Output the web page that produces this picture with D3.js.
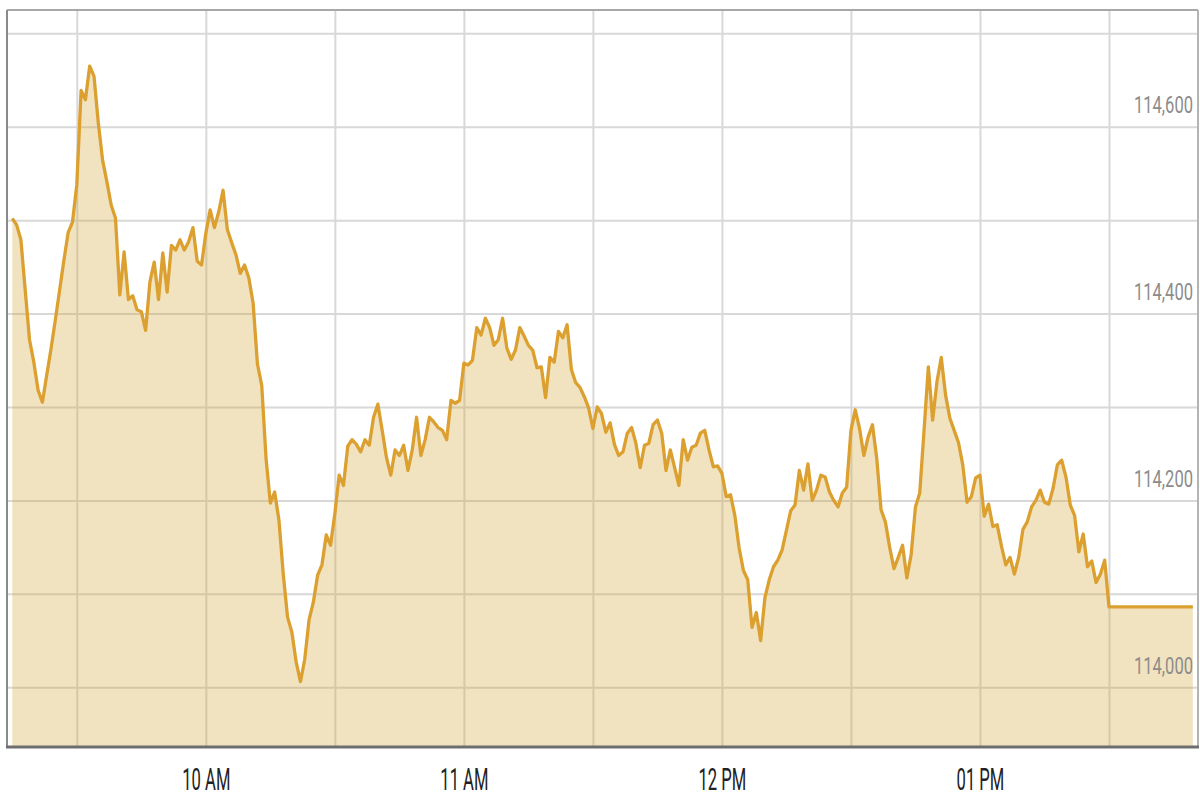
<!DOCTYPE html>
<html>
<head>
<meta charset="utf-8">
<script src="https://cdn.jsdelivr.net/npm/d3@7"></script>
<style>
body { margin: 0; background: #fff; }
.chart text { font-family: Roboto, "Liberation Sans", sans-serif; }
</style>
</head>
<body>
<div class="chart"></div>
<script>
// index level, one value per minute from the open
var startTime = "09:15";
var values = [
    114502, 114495, 114479, 114425, 114372, 114348, 114318, 114305, 114334, 114362,
    114393, 114425, 114457, 114487, 114498, 114538, 114639, 114629, 114665, 114654,
    114604, 114564, 114541, 114516, 114502, 114420, 114466, 114415, 114419, 114404,
    114402, 114382, 114434, 114455, 114415, 114465, 114423, 114473, 114468, 114479,
    114468, 114477, 114492, 114456, 114452, 114486, 114511, 114492, 114509, 114532,
    114490, 114476, 114463, 114443, 114452, 114438, 114411, 114346, 114323, 114245,
    114197, 114209, 114179, 114121, 114075, 114059, 114027, 114006, 114030, 114072,
    114091, 114120, 114131, 114163, 114152, 114186, 114227, 114216, 114258, 114265,
    114260, 114252, 114265, 114259, 114289, 114303, 114275, 114246, 114227, 114254,
    114248, 114259, 114232, 114254, 114289, 114248, 114265, 114289, 114284, 114278,
    114275, 114265, 114307, 114304, 114307, 114347, 114345, 114350, 114385, 114377,
    114395, 114385, 114366, 114372, 114395, 114363, 114351, 114361, 114385, 114376,
    114366, 114361, 114342, 114343, 114310, 114353, 114348, 114381, 114374, 114388,
    114340, 114326, 114321, 114311, 114299, 114277, 114300, 114293, 114273, 114283,
    114260, 114248, 114252, 114272, 114278, 114261, 114235, 114259, 114261, 114281,
    114286, 114272, 114232, 114254, 114235, 114216, 114265, 114243, 114257, 114259,
    114272, 114275, 114254, 114236, 114237, 114229, 114204, 114206, 114184, 114149,
    114125, 114115, 114064, 114080, 114050, 114096, 114115, 114129, 114136, 114147,
    114168, 114189, 114195, 114232, 114211, 114239, 114200, 114211, 114227, 114225,
    114209, 114200, 114193, 114208, 114214, 114275, 114297, 114277, 114248, 114268,
    114281, 114245, 114190, 114177, 114150, 114127, 114139, 114152, 114117, 114142,
    114193, 114208, 114275, 114343, 114286, 114327, 114353, 114313, 114288, 114275,
    114262, 114238, 114198, 114204, 114224, 114227, 114183, 114196, 114172, 114174,
    114151, 114131, 114139, 114121, 114139, 114169, 114177, 114193, 114200, 114211,
    114198, 114196, 114213, 114238, 114243, 114225, 114195, 114184, 114145, 114164,
    114129, 114135, 114112, 114121, 114136, 114086
];
// last value is held flat until this time
var holdUntil = "13:49:30";

var timeDomain = ["09:14", "13:50"];
var priceDomain = [113936, 114725];

var hourTicks = ["10:00", "11:00", "12:00", "13:00"];
var gridTimes = ["09:30", "10:00", "10:30", "11:00", "11:30", "12:00", "12:30", "13:00", "13:30"];
var priceTicks = [114000, 114200, 114400, 114600];
var gridPrices = [114000, 114100, 114200, 114300, 114400, 114500, 114600, 114700];

function parseT(s) {
    return d3.timeParse(s.length > 5 ? "%H:%M:%S" : "%H:%M")(s);
}

var w = 1200;
var h = 800;
var padL = 8, padR = 1195, padT = 10, padB = 747;

var svg = d3.select(".chart").append("svg")
    .attr("width", w)
    .attr("height", h);

var x = d3.scaleTime()
    .domain(timeDomain.map(parseT))
    .range([padL, padR]);
var y = d3.scaleLinear()
    .domain(priceDomain)
    .range([padB, padT]);

// build the series
var t0 = parseT(startTime);
var data = values.map(function(v, i) {
    return {t: d3.timeMinute.offset(t0, i), v: v};
});
data.push({t: parseT(holdUntil), v: values[values.length - 1]});

// grid
svg.append("g")
    .attr("class", "vgrid")
    .attr("transform", "translate(0," + padB + ")")
    .call(d3.axisBottom(x).tickValues(gridTimes.map(parseT)).tickSize(-(padB - padT)).tickFormat(""))
    .call(function(g) { g.select(".domain").remove(); })
    .selectAll("line")
    .attr("stroke", "#d8d8d8")
    .attr("stroke-width", 2);

svg.append("g")
    .attr("class", "hgrid")
    .attr("transform", "translate(" + padL + ",0)")
    .call(d3.axisRight(y).tickValues(gridPrices).tickSize(1198 - padL).tickFormat(""))
    .call(function(g) { g.select(".domain").remove(); })
    .selectAll("line")
    .attr("stroke", "#d8d8d8")
    .attr("stroke-width", 2);

// area + line
var area = d3.area()
    .x(function(d) { return x(d.t); })
    .y0(padB)
    .y1(function(d) { return y(d.v); });
var line = d3.line()
    .x(function(d) { return x(d.t); })
    .y(function(d) { return y(d.v); });

svg.append("path")
    .datum(data)
    .attr("d", area)
    .attr("fill", "rgb(214,168,60)")
    .attr("fill-opacity", 0.32);

svg.append("path")
    .datum(data)
    .attr("d", line)
    .attr("fill", "none")
    .attr("stroke", "rgb(219,160,48)")
    .attr("stroke-width", 3.3)
    .attr("stroke-linejoin", "round");

// frame
svg.append("line").attr("x1", 7).attr("y1", padT).attr("x2", 1198).attr("y2", padT)
    .attr("stroke", "#a8a8a8").attr("stroke-width", 2);
svg.append("line").attr("x1", 1198).attr("y1", padT).attr("x2", 1198).attr("y2", padB)
    .attr("stroke", "#b4b4b4").attr("stroke-width", 2);
svg.append("line").attr("x1", 7).attr("y1", padT).attr("x2", 7).attr("y2", padB)
    .attr("stroke", "#8a8a8a").attr("stroke-width", 2);
svg.append("line").attr("x1", 6).attr("y1", padB).attr("x2", 1199).attr("y2", padB)
    .attr("stroke", "#6e6e6e").attr("stroke-width", 3);

// time labels
var xAxis = svg.append("g")
    .attr("transform", "translate(0," + padB + ")")
    .call(d3.axisBottom(x).tickValues(hourTicks.map(parseT)).tickSize(0).tickFormat(d3.timeFormat("%I %p")));
xAxis.select(".domain").remove();
xAxis.selectAll("text")
    .attr("y", 43)
    .attr("dy", 0)
    .attr("transform", "scale(0.52,1)")
    .style("font-size", "32px")
    .style("fill", "#222");

// price labels, sitting above their grid line
var yAxis = svg.append("g")
    .attr("transform", "translate(1193,0)")
    .call(d3.axisLeft(y).tickValues(priceTicks).tickSize(0).tickFormat(d3.format(",")));
yAxis.select(".domain").remove();
yAxis.selectAll("text")
    .attr("x", 0)
    .attr("dy", 0)
    .attr("y", -14)
    .attr("transform", "scale(0.72,1)")
    .style("font-size", "23px")
    .style("text-anchor", "end")
    .style("fill", "#8c8c8c");
</script>
</body>
</html>
